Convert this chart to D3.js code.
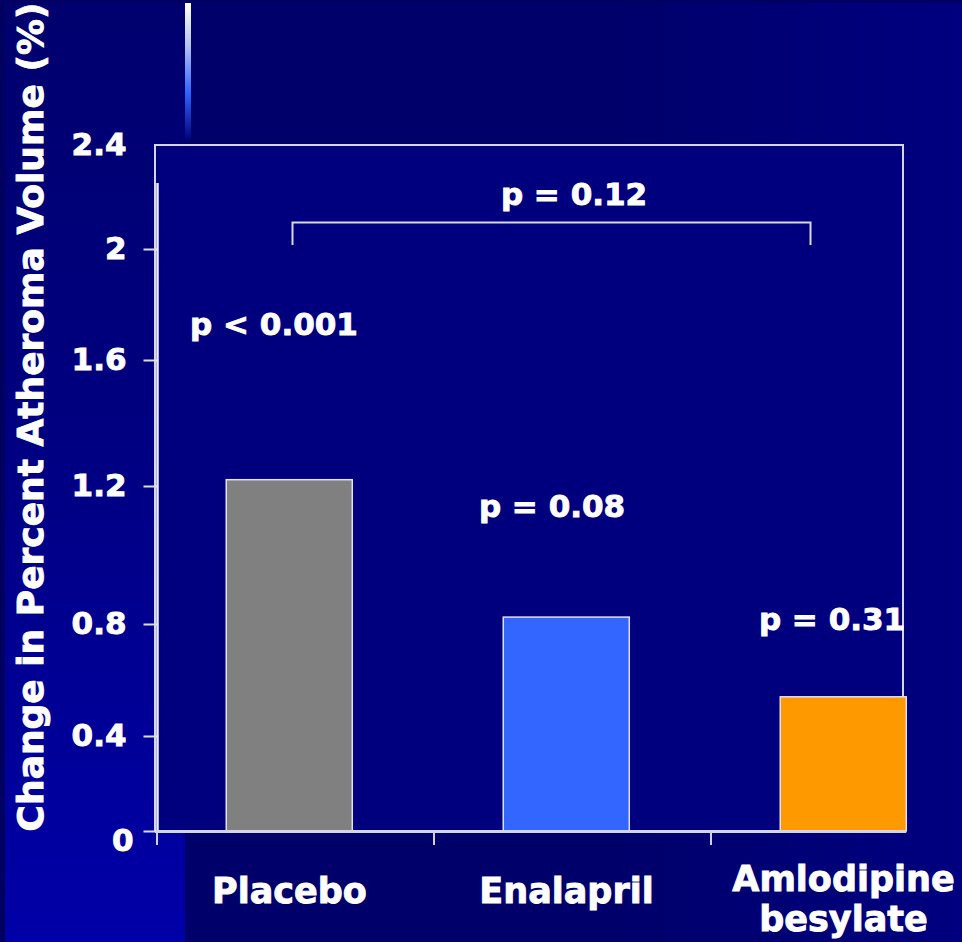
<!DOCTYPE html>
<html>
<head>
<meta charset="utf-8">
<script src="https://cdn.jsdelivr.net/npm/d3@7"></script>
<style>
  body { margin: 0; background: #00006c; }
  svg { display: block; }
  text { font-family: "DejaVu Sans", "Liberation Sans", sans-serif; font-weight: bold; fill: #ffffff;
         stroke: #ffffff; stroke-width: 0.9px; paint-order: stroke; }
</style>
</head>
<body>
<svg id="chart" width="962" height="942"></svg>
<script>
// Change in percent atheroma volume by treatment arm
const categories = ["Placebo", "Enalapril", "Amlodipine besylate"];
const categoryLines = [["Placebo"], ["Enalapril"], ["Amlodipine", "besylate"]];
const changeInPAV = [1.22, 0.82, 0.54];
const barColors = ["#808080", "#3366ff", "#ff9900"];
const yTickValues = [0, 0.4, 0.8, 1.2, 1.6, 2, 2.4];
const yTickLabels = ["0", "0.4", "0.8", "1.2", "1.6", "2", "2.4"];
const pWithinArm = ["p < 0.001", "p = 0.08", "p = 0.31"];
const pBetweenArms = "p = 0.12";
const yTitle = "Change in Percent Atheroma Volume (%)";

const svg = d3.select("#chart");
const W = 962, H = 942;

// ---- backgrounds ----
const defs = svg.append("defs");
const lg = defs.append("linearGradient").attr("id", "leftBand").attr("x1", 0).attr("y1", 0).attr("x2", 0).attr("y2", 1);
lg.append("stop").attr("offset", "0%").attr("stop-color", "#00006e");
lg.append("stop").attr("offset", "45%").attr("stop-color", "#000080");
lg.append("stop").attr("offset", "100%").attr("stop-color", "#0000a8");

const rg = defs.append("linearGradient").attr("id", "rightShade").attr("x1", 0).attr("y1", 0).attr("x2", 1).attr("y2", 0);
rg.append("stop").attr("offset", "0%").attr("stop-color", "#00006a");
rg.append("stop").attr("offset", "100%").attr("stop-color", "#000080");

const sg = defs.append("linearGradient").attr("id", "streak").attr("x1", 0).attr("y1", 0).attr("x2", 0).attr("y2", 1);
sg.append("stop").attr("offset", "0%").attr("stop-color", "#fffff0");
sg.append("stop").attr("offset", "30%").attr("stop-color", "#b8c4f2");
sg.append("stop").attr("offset", "65%").attr("stop-color", "#2f63ff");
sg.append("stop").attr("offset", "100%").attr("stop-color", "#000078");

svg.append("rect").attr("width", W).attr("height", H).attr("fill", "#00006a");
svg.append("rect").attr("x", 600).attr("width", W - 600).attr("height", H).attr("fill", "url(#rightShade)");
svg.append("rect").attr("x", 5).attr("width", 180).attr("height", H).attr("fill", "url(#leftBand)");
svg.append("rect").attr("x", 0).attr("width", 5).attr("height", H).attr("fill", "#00005e");
svg.append("rect").attr("width", W).attr("height", 3).attr("fill", "#000064");
svg.append("rect").attr("x", 185).attr("y", 3).attr("width", 6).attr("height", 138).attr("fill", "url(#streak)");

// ---- scales ----
const plot = { left: 155, right: 903, top: 145, bottom: 831 };
const y = d3.scaleLinear()
  .domain(yTickValues)
  .range([831, 736, 624, 486, 360, 249, 145]);
const x = d3.scaleBand()
  .domain(categories)
  .range([157, 988])
  .padding(0);
const bw = x.bandwidth();

// plot area
svg.append("rect")
  .attr("x", plot.left).attr("y", plot.top)
  .attr("width", plot.right - plot.left).attr("height", plot.bottom - plot.top)
  .attr("fill", "#00007f");

// ---- bars ----
const rows = categories.map((c, i) => ({ c, v: changeInPAV[i], color: barColors[i] }));
const barX = d => x(d.c) + bw * 0.25;
const barW = bw * 0.455;

// frame around the plot
svg.append("path")
  .attr("d", `M${plot.left},${plot.bottom}V${plot.top}H${plot.right}V${y(changeInPAV[2])}`)
  .attr("fill", "none").attr("stroke", "#d6d6ea").attr("stroke-width", 2);

svg.append("g").selectAll("rect").data(rows).join("rect")
  .attr("x", barX)
  .attr("y", d => y(d.v))
  .attr("width", barW)
  .attr("height", d => y(0) - y(d.v))
  .attr("fill", d => d.color)
  .attr("stroke", "#e2e2ec")
  .attr("stroke-width", 1.5);

// ---- y axis ----
const yAxis = svg.append("g").attr("transform", "translate(157.5,0)")
  .call(d3.axisLeft(y).tickValues(yTickValues).tickSize(14).tickFormat((d, i) => yTickLabels[i]));
yAxis.select(".domain").remove();
yAxis.selectAll(".tick line").attr("stroke", "#dcdcec").attr("stroke-width", 2)
  .filter(d => d === 2.4).remove();
yAxis.selectAll(".tick text")
  .attr("x", -31).attr("dy", "0.3em")
  .style("font-size", "31px").attr("fill", "#fff")
  .filter(d => d === 0).attr("x", -24).attr("dy", "0.62em");
svg.append("line")
  .attr("x1", 157.5).attr("x2", 157.5).attr("y1", 183).attr("y2", y(0))
  .attr("stroke", "#ececf6").attr("stroke-width", 2.5);

// ---- x axis ----
svg.append("line")
  .attr("x1", plot.left).attr("x2", barX(rows[2]) + barW).attr("y1", y(0) + 0.5).attr("y2", y(0) + 0.5)
  .attr("stroke", "#d4d4e4").attr("stroke-width", 3);
svg.append("g").selectAll("line").data(categories).join("line")
  .attr("x1", d => x(d)).attr("x2", d => x(d))
  .attr("y1", y(0) + 1).attr("y2", y(0) + 14)
  .attr("stroke", "#d0d0e0").attr("stroke-width", 2);

const labelX = d => x(d) + bw / 2 - 6;
svg.append("g").selectAll("text").data(categories).join("text")
  .attr("text-anchor", "middle")
  .attr("x", labelX)
  .attr("y", (d, i) => categoryLines[i].length > 1 ? 891 : 903)
  .style("font-size", "35px")
  .each(function (d, i) {
    d3.select(this).selectAll("tspan").data(categoryLines[i]).join("tspan")
      .attr("x", labelX(d))
      .attr("dy", (t, j) => j === 0 ? 0 : 40)
      .text(t => t);
  });

// ---- y title ----
svg.append("text")
  .attr("transform", "translate(43,417) rotate(-90)")
  .attr("text-anchor", "middle")
  .style("font-size", "36px")
  .text(yTitle);

// ---- p-values ----
const pPos = [[274, 335], [552, 517], [832, 630]];
svg.append("g").selectAll("text").data(pWithinArm).join("text")
  .attr("text-anchor", "middle")
  .attr("x", (d, i) => pPos[i][0])
  .attr("y", (d, i) => pPos[i][1])
  .style("font-size", "31px")
  .text(d => d);

svg.append("path")
  .attr("d", "M292.5,245V222.5H810.5V245")
  .attr("fill", "none").attr("stroke", "#d8d8ea").attr("stroke-width", 2);
svg.append("text")
  .attr("text-anchor", "middle")
  .attr("x", 574).attr("y", 205)
  .style("font-size", "31px")
  .text(pBetweenArms);
</script>
</body>
</html>
